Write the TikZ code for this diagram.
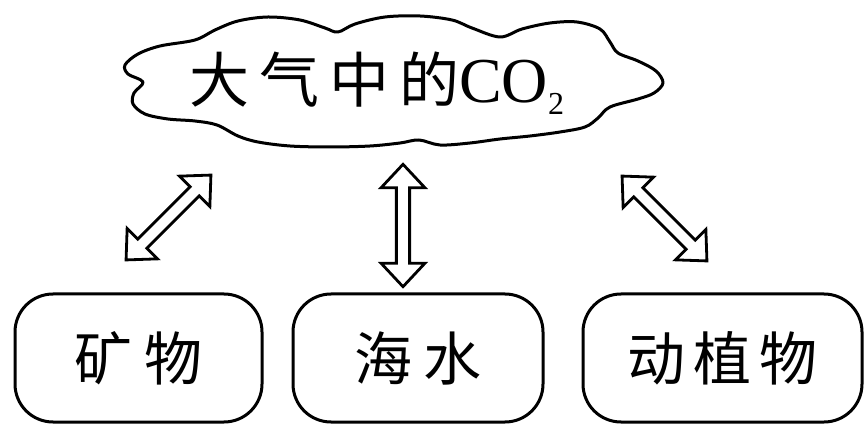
\documentclass[tikz,border=0pt]{standalone}
\usepackage{fontspec}
\setmainfont{Liberation Serif}
\newfontfamily\cjk{Noto Sans CJK SC}
\begin{document}
\begin{tikzpicture}[x=1pt,y=-1pt,
  outline/.style={line width=3pt, line join=round},
  box/.style={draw, line width=3pt, rounded corners=38pt, minimum height=128pt, inner sep=0pt,
    font=\cjk\fontsize{58}{62}\selectfont},
  dblarrow/.pic={\draw[line width=2.8pt, line join=miter, fill=white]
    (-60,0) -- (-37,21.5) -- (-37,6.5) -- (37,6.5) -- (37,21.5) -- (60,0)
    -- (37,-21.5) -- (37,-6.5) -- (-37,-6.5) -- (-37,-21.5) -- cycle;}
]
\useasboundingbox (0,0) rectangle (864,427);
% cloud
\draw[outline] plot[smooth cycle, tension=0.55] coordinates {
 (125,65) (138,54) (160,46) (195,40) (215,30) (238,21) (268,17) (300,20) (325,28) (338,32)
 (355,24) (385,17) (420,16) (452,20) (472,28) (500,37)
 (522,29) (550,23) (577,22) (600,29) (610,42) (618,53)
 (638,61) (656,71) (663,83) (654,93) (638,99) (610,107)
 (598,118) (585,127) (560,132) (530,136) (500,139) (470,143) (440,145) (419,140)
 (400,143) (370,146) (330,147) (290,146) (258,142) (238,136) (217,125)
 (195,121) (168,119) (145,114) (133,104) (134,93) (143,82) (128,74)};
\node[anchor=base west, inner sep=0pt] (atm) at (189,103)
  {\cjk\fontsize{60}{64}\selectfont 大\hspace{10pt}气\hspace{10pt}中\hspace{10pt}的\rmfamily\fontsize{64}{64}\selectfont CO\raisebox{-12pt}{\fontsize{32}{32}\selectfont 2}};
% boxes
\node[box, minimum width=247pt] (kw) at (138.5,358) {矿\hspace{12pt}物};
\node[box, minimum width=250pt] (hs) at (418,358) {海\hspace{12pt}水};
\node[box, minimum width=279pt] (dz) at (722.5,358) {动\hspace{8pt}植\hspace{8pt}物};
% arrows
\coordinate (a1) at (168.5,217.5);
\coordinate (a2) at (403,225.5);
\coordinate (a3) at (664.5,218.5);
\pic[rotate=45] at (a1) {dblarrow};
\pic[rotate=90, scale=1.02] at (a2) {dblarrow};
\pic[rotate=-45] at (a3) {dblarrow};
\end{tikzpicture}
\end{document}
